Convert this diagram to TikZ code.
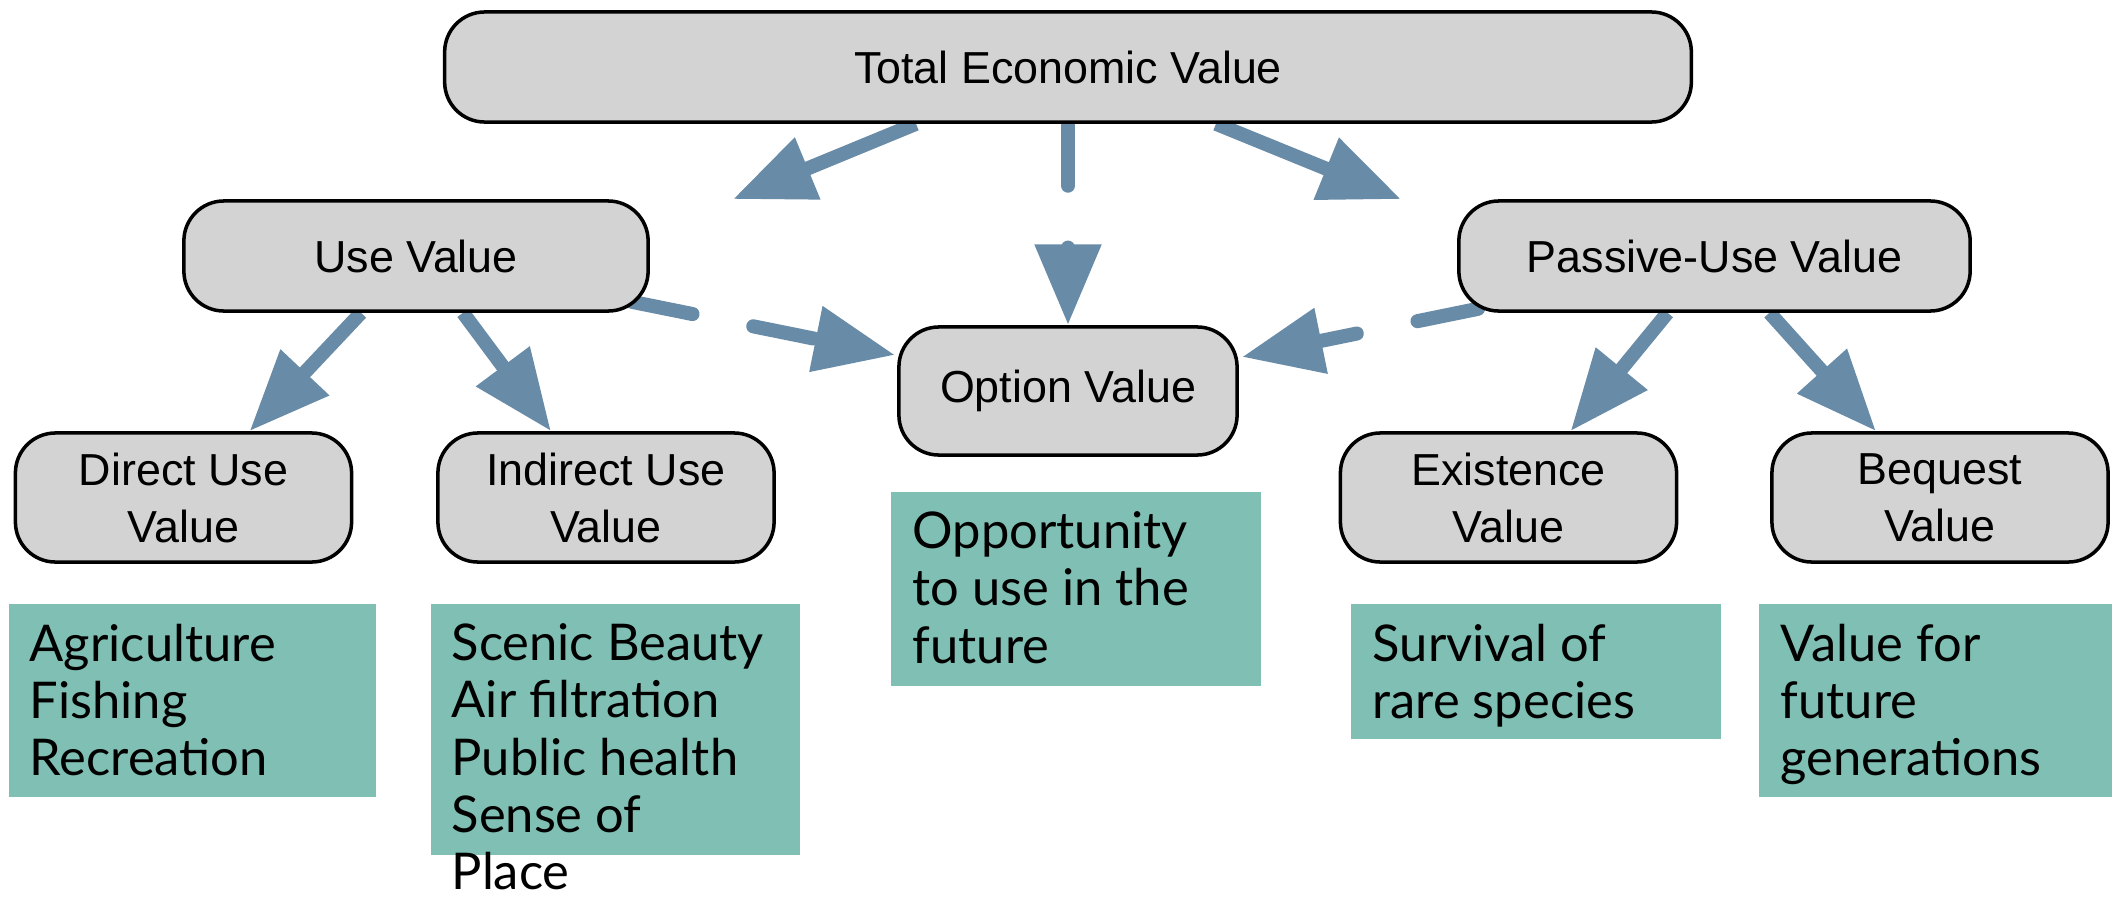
\documentclass[tikz,border=0pt]{standalone}
\usepackage{fontspec}
\setmainfont{Liberation Sans}
\newfontfamily\notefont{Lato}
\usetikzlibrary{arrows.meta,backgrounds}

\definecolor{boxgray}{RGB}{211,211,211}
\definecolor{notegreen}{RGB}{128,191,180}
\definecolor{flowblue}{RGB}{104,139,168}

\tikzset{
  valbox/.style={draw=black, line width=1pt, fill=boxgray, rounded corners=0.4cm,
    minimum width=3.36cm, minimum height=1.29cm, align=center, inner sep=0pt,
    font=\fontsize{12.75}{16.2}\selectfont},
  note/.style={anchor=north west, align=left, inner sep=0pt,
    font=\notefont\fontsize{14.4}{16.3}\selectfont},
  flow/.style={flowblue, line width=4pt, -{Triangle[length=23pt,width=18pt]}},
  maybe/.style={flow, line cap=round, dash pattern=on 17.6pt off 17.6pt},
}

\begin{document}
\begin{tikzpicture}[x=0.01cm, y=-0.01cm]
  \useasboundingbox (0,0) rectangle (2112,897);

  % the value boxes
  \node[valbox, minimum width=12.46cm, minimum height=1.1cm] (tev) at (1068,67) {Total Economic Value};
  \node[valbox, minimum width=4.64cm, minimum height=1.1cm] (use) at (416,256) {Use Value};
  \node[valbox, minimum width=5.11cm, minimum height=1.1cm] (passive) at (1714.5,256) {Passive-Use Value};
  \node[valbox, minimum width=3.38cm, minimum height=1.28cm] (option) at (1068,391) {Option Value};
  \node[valbox] (direct) at (183.5,497.5) {Direct Use\\Value};
  \node[valbox] (indirect) at (606,497.5) {Indirect Use\\Value};
  \node[valbox] (existence) at (1508.5,497.5) {Existence\\Value};
  \node[valbox] (bequest) at (1940,497.5) {Bequest\\Value};

  % arrows go under the boxes
  \begin{scope}[on background layer]
    \draw[flow] ([shift={(-152,0)}]tev.south) -- ([shift={(83,0)}]use.north east);
    \draw[flow] ([shift={(148,0)}]tev.south) -- ([shift={(-56,0)}]passive.north west);
    \draw[maybe] (tev.south) -- (option.north);
    \draw[maybe] ([shift={(-18,-11)}]use.south east) -- ([shift={(-2,-36)}]option.west);
    \draw[maybe] ([shift={(21,-4)}]passive.south west) -- ([shift={(3,-34)}]option.east);
    \draw[flow] ([shift={(-55,0)}]use.south) -- ([shift={(66,0)}]direct.north);
    \draw[flow] ([shift={(47,0)}]use.south) -- ([shift={(-55,0)}]indirect.north);
    \draw[flow] ([shift={(-47,0)}]passive.south) -- ([shift={(62,0)}]existence.north);
    \draw[flow] ([shift={(55,0)}]passive.south) -- ([shift={(-64,0)}]bequest.north);
  \end{scope}

  % examples under each value
  \fill[notegreen] (9,604) rectangle (376,797);
  \fill[notegreen] (431,604) rectangle (800,855);
  \fill[notegreen] (891,492) rectangle (1261,686);
  \fill[notegreen] (1351,604) rectangle (1721,739);
  \fill[notegreen] (1759,604) rectangle (2112,797);

  \node[note] (directex) at (29,623) {Agriculture\\Fishing\\Recreation};
  \node[note] (indirectex) at (451,623) {Scenic Beauty\\Air filtration\\Public health\\Sense of\\Place};
  \node[note] (optionex) at (912,511) {Opportunity\\to use in the\\future};
  \node[note] (existenceex) at (1372,623) {Survival of\\rare species};
  \node[note] (bequestex) at (1780,623) {Value for\\future\\generations};
\end{tikzpicture}
\end{document}
